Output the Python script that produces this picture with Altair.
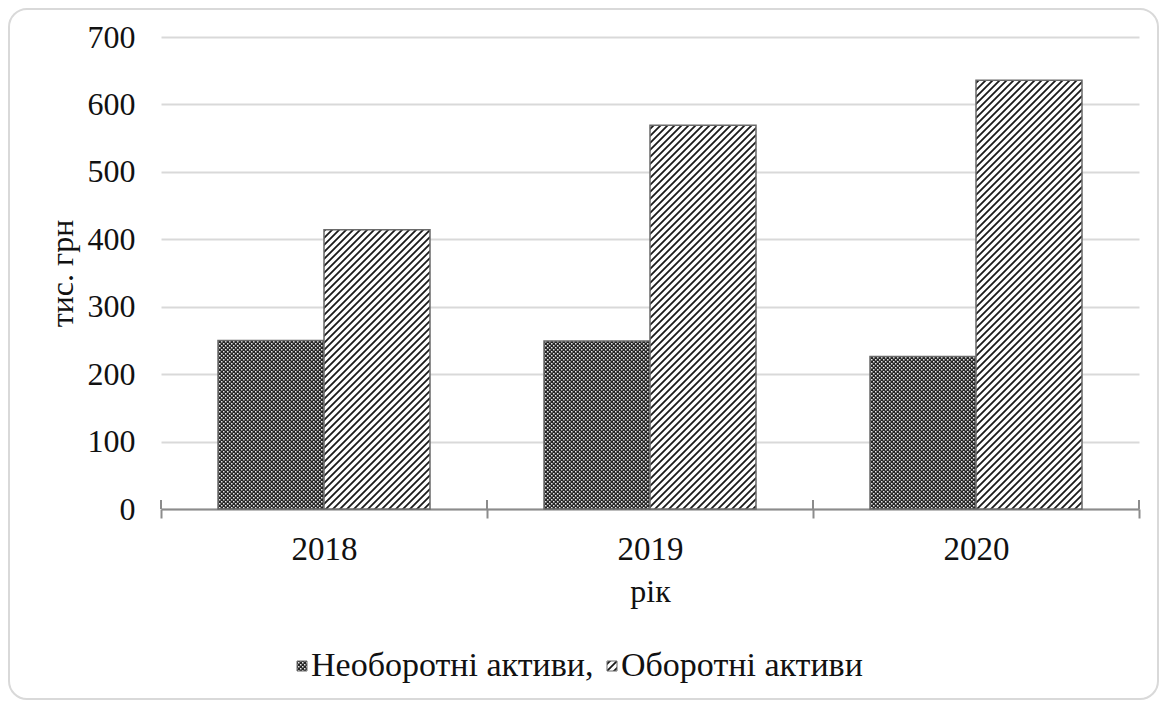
import altair as alt
import pandas as pd
import jinja2
from altair.utils import html as alt_html

# ---- data ----
years = ["2018", "2019", "2020"]
series = ["Необоротні активи,", "Оборотні активи"]
non_current = [250, 249, 226]
current = [414, 569, 636]
y_ticks = [0, 100, 200, 300, 400, 500, 600, 700]

rows = []
for i, yr in enumerate(years):
    rows.append({"year": yr, "series": series[0], "value": non_current[i]})
    rows.append({"year": yr, "series": series[1], "value": current[i]})
df = pd.DataFrame(rows)

FONT = "Liberation Serif"
W, H = 978, 472
AXIS_GREY = "#8c8c8c"

xscale = alt.Scale(paddingInner=0, paddingOuter=0)
x_axis = alt.Axis(title="рік", labelAngle=0, tickBand="extent",
                  ticks=True, tickSize=9, tickColor=AXIS_GREY, tickWidth=2,
                  domainColor=AXIS_GREY, domainWidth=2, grid=False,
                  labelFont=FONT, labelFontSize=33, labelColor="#111",
                  labelPadding=15,
                  titleFont=FONT, titleFontSize=32, titleFontWeight="normal",
                  titleColor="#111", titleBaseline="alphabetic",
                  titleY=92)

bars = alt.Chart(df).mark_bar(stroke="#6a6a6a", strokeWidth=1.5).encode(
    x=alt.X("year:N", sort=years, scale=xscale, axis=x_axis),
    xOffset=alt.XOffset("series:N", sort=series,
                        scale=alt.Scale(paddingInner=0, paddingOuter=0.5377)),
    y=alt.Y("value:Q", scale=alt.Scale(domain=[0, 700], nice=False),
            axis=alt.Axis(title="тис. грн", values=y_ticks, domain=False, ticks=False,
                          grid=True, gridColor="#d9d9d9", gridWidth=2,
                          labelFont=FONT, labelFontSize=32, labelColor="#111",
                          labelPadding=26,
                          titleFont=FONT, titleFontSize=32, titleFontWeight="normal",
                          titleColor="#111", titleBaseline="alphabetic",
                          titleAngle=270, titleX=-89, titleY=236)),
    fill=alt.Fill("series:N", sort=series,
                  scale=alt.Scale(domain=series, range=["url(#checker)", "url(#hatch)"]),
                  legend=alt.Legend(orient="none", legendX=124, legendY=612,
                                    direction="horizontal", title=None,
                                    symbolType="square", symbolSize=100,
                                    symbolStrokeColor="#6a6a6a", symbolStrokeWidth=1,
                                    labelFont=FONT, labelFontSize=34, labelColor="#111",
                                    labelLimit=500, labelOffset=alt.ExprRef(expr="-8"),
                                    columnPadding=1, padding=0)),
)

# upper half of the category-boundary ticks (Excel draws them crossing the axis)
tick_up = alt.Chart(pd.DataFrame({"year": years})).mark_rule(
    color=AXIS_GREY, strokeWidth=2
).encode(
    x=alt.X("year:N", sort=years, scale=xscale, bandPosition=0, axis=x_axis),
    y=alt.value(H - 9), y2=alt.value(H),
)
tick_up_end = alt.Chart(pd.DataFrame({"year": years[-1:]})).mark_rule(
    color=AXIS_GREY, strokeWidth=2
).encode(
    x=alt.X("year:N", sort=years, scale=xscale, bandPosition=1, axis=x_axis),
    y=alt.value(H - 9), y2=alt.value(H),
)

border = alt.Chart(pd.DataFrame({"a": [0]})).mark_rect(
    cornerRadius=18, fill="white", fillOpacity=0, stroke="#d9d9d9", strokeWidth=2
).encode(x=alt.value(-152), x2=alt.value(997), y=alt.value(-28), y2=alt.value(662))

chart = alt.layer(border, bars, tick_up, tick_up_end).properties(
    width=W, height=H,
    autosize=alt.AutoSizeParams(type="none"),
    padding={"left": 153, "top": 29, "right": 20, "bottom": 191},
    background="white",
).configure_view(stroke=None)

DEFS = (
    '<svg width="0" height="0" style="position:absolute;left:0;top:0">'
    '<defs>'
    '<pattern id="checker" patternUnits="userSpaceOnUse" width="4" height="4">'
    '<rect width="4" height="4" fill="#262626"/>'
    '<rect x="0" y="0" width="1.5" height="1.5" fill="#e6e6e6"/>'
    '<rect x="2" y="2" width="1.5" height="1.5" fill="#e6e6e6"/>'
    '</pattern>'
    '<pattern id="hatch" patternUnits="userSpaceOnUse" width="7" height="7">'
    '<rect width="7" height="7" fill="#ffffff"/>'
    '<path d="M-1,1 l2,-2 M0,7 l7,-7 M6,8 l2,-2" stroke="#1a1a1a" stroke-width="1.8"/>'
    '</pattern>'
    '</defs></svg>'
)

_templates = getattr(alt_html, "TEMPLATES", None)
BASE = _templates["standard"] if _templates else alt_html.HTML_TEMPLATE


class PatternTemplate(jinja2.Template):
    def render(self, *args, **kwargs):
        html = BASE.render(*args, **kwargs)
        if "<body>" in html:
            return html.replace("<body>", "<body>" + DEFS, 1)
        return html.replace("<div id=", DEFS + "<div id=", 1)


chart.save("out.html", embed_options={"renderer": "svg", "actions": False},
           template=PatternTemplate(""))
